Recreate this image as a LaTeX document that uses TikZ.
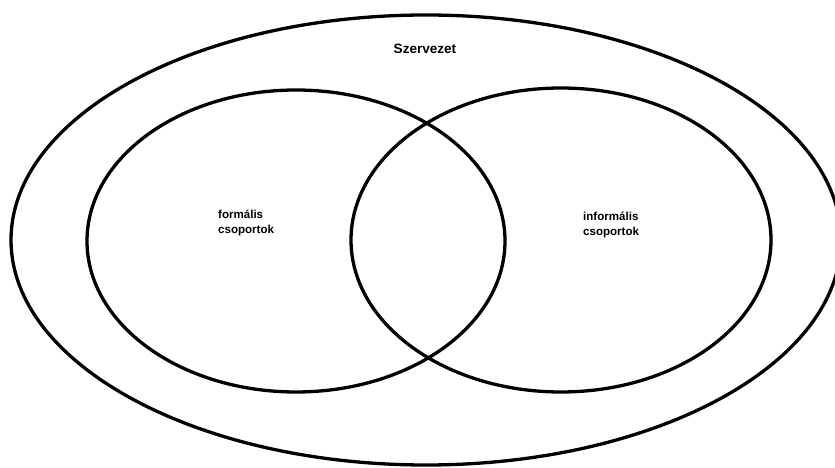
\documentclass[tikz,border=0pt]{standalone}
\usepackage{fontspec}
\setmainfont{Liberation Sans}
\begin{document}
\begin{tikzpicture}[x=1bp,y=-1bp,
  ring/.style={draw=black,line width=3.3bp},
  lbl/.style={font=\bfseries\fontsize{11.6}{15.5}\selectfont,inner sep=0pt,align=left},
  title/.style={font=\bfseries\fontsize{13.6}{16}\selectfont,inner sep=0pt}]
\useasboundingbox (0,0) rectangle (835,468);
% organisation and its two kinds of groups
\draw[ring] (426,240) ellipse [x radius=415, y radius=225];
\draw[ring] (296,241) ellipse [x radius=209, y radius=151];
\draw[ring] (561,240) ellipse [x radius=210, y radius=152];
% labels
\node[title] (org) at (425,49) {Szervezet};
\node[lbl,anchor=west] (formal) at (218,223) {formális\\csoportok};
\node[lbl,anchor=west] (informal) at (583,225) {informális\\csoportok};
\end{tikzpicture}
\end{document}
